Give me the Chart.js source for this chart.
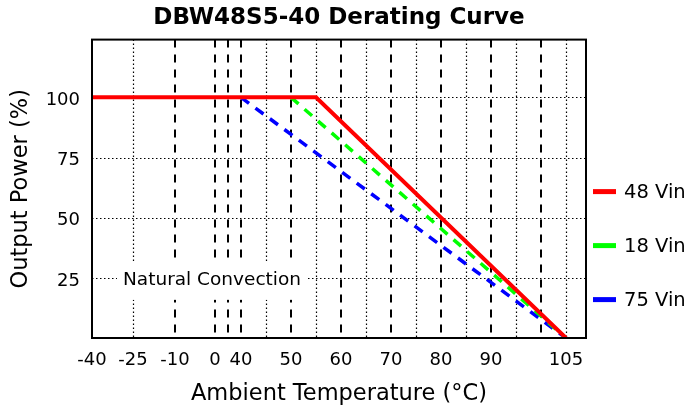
<!DOCTYPE html>
<html>
<head>
<meta charset="utf-8">
<title>DBW48S5-40 Derating Curve</title>
<script src="https://cdn.jsdelivr.net/npm/chart.js@4.4.1/dist/chart.umd.min.js"></script>
<style>
    html, body { margin: 0; padding: 0; background: #fff; }
    #wrap { width: 686px; height: 416px; }
</style>
</head>
<body>
<div id="wrap"><canvas id="derating" width="686" height="416"></canvas></div>
<script>
// Derating curves
const seriesLabels = ['48 Vin', '18 Vin', '75 Vin'];
const seriesColors = ['#ff0000', '#00ff00', '#0000ff'];
const temp48 = [-40, 55, 105];
const power48 = [100, 100, 0];
const temp18 = [50, 105];
const power18 = [100, 0];
const temp75 = [40, 105];
const power75 = [100, 0];

// Axis ticks and grid lines
const xTickLabels = [-40, -25, -10, 0, 40, 50, 60, 70, 80, 90, 105];
const yTickLabels = [25, 50, 75, 100];
const xDashedGrid = [-10, 0, 20, 40, 50, 60, 70, 80, 90, 100];
const xDottedGrid = [-25, 45, 55, 65, 75, 85, 95, 105];
const noteText = 'Natural Convection';

const FONT = '"DejaVu Sans", "Liberation Sans", Arial, sans-serif';

// Linear scale whose low-temperature part is squeezed, like the datasheet axis.
// stops: [value, fraction of axis length]
class SegmentedScale extends Chart.LinearScale {
    toDecimal(v) {
        const s = this.options.stops;
        let i = 1;
        while (i < s.length - 1 && v > s[i][0]) i++;
        const [v0, d0] = s[i - 1];
        const [v1, d1] = s[i];
        return d0 + (v - v0) / (v1 - v0) * (d1 - d0);
    }
    fromDecimal(d) {
        const s = this.options.stops;
        let i = 1;
        while (i < s.length - 1 && d > s[i][1]) i++;
        const [v0, d0] = s[i - 1];
        const [v1, d1] = s[i];
        return v0 + (d - d0) / (d1 - d0) * (v1 - v0);
    }
    getPixelForValue(value) {
        if (value === null || value === undefined || isNaN(value)) return NaN;
        return this.getPixelForDecimal(this.toDecimal(value));
    }
    getValueForPixel(pixel) {
        return this.fromDecimal(this.getDecimalForPixel(pixel));
    }
}
SegmentedScale.id = 'segmented';
SegmentedScale.defaults = {};
Chart.register(SegmentedScale);

function toPoints(xs, ys) {
    return xs.map((x, i) => ({ x: x, y: ys[i] }));
}

function line(ctx, x1, y1, x2, y2) {
    ctx.beginPath();
    ctx.moveTo(x1, y1);
    ctx.lineTo(x2, y2);
    ctx.stroke();
}

// Dotted / dashed grid, note box, frame and legend
const datasheetPlugin = {
    id: 'datasheet',
    beforeDatasetsDraw(chart) {
        const { ctx, chartArea: a, scales: { x, y } } = chart;
        ctx.save();
        ctx.strokeStyle = '#000';

        ctx.lineWidth = 1.2;
        ctx.setLineDash([1.5, 2.5]);
        yTickLabels.forEach(v => {
            const py = Math.round(y.getPixelForValue(v)) + 0.5;
            line(ctx, a.left, py, a.right, py);
        });
        xDottedGrid.forEach(v => {
            const px = Math.round(x.getPixelForValue(v)) + 0.5;
            line(ctx, px, a.top, px, a.bottom);
        });

        ctx.lineWidth = 2;
        ctx.setLineDash([8, 7]);
        xDashedGrid.forEach(v => {
            const px = Math.round(x.getPixelForValue(v));
            line(ctx, px, a.top, px, a.bottom);
        });

        // label sitting on the 25 % grid line
        ctx.setLineDash([]);
        ctx.font = '18.5px ' + FONT;
        const tx = a.left + 31;
        const ty = y.getPixelForValue(25) + 2;
        const tw = ctx.measureText(noteText).width;
        ctx.fillStyle = '#fff';
        ctx.fillRect(tx - 6, ty - 18, tw + 12, 38);
        ctx.fillStyle = '#000';
        ctx.textBaseline = 'middle';
        ctx.textAlign = 'left';
        ctx.fillText(noteText, tx, ty);
        ctx.restore();
    },
    afterDatasetsDraw(chart) {
        const { ctx, chartArea: a } = chart;
        ctx.save();
        ctx.strokeStyle = '#000';
        ctx.lineWidth = 2;
        ctx.strokeRect(a.left, a.top, a.right - a.left, a.bottom - a.top);
        ctx.restore();
    },
    afterDraw(chart) {
        const { ctx, chartArea: a } = chart;
        ctx.save();
        const lx = a.right + 7;
        chart.data.datasets.forEach((ds, i) => {
            const ly = a.top + 152 + i * 54;
            ctx.strokeStyle = ds.borderColor;
            ctx.lineWidth = 5;
            line(ctx, lx, ly, lx + 23, ly);
            ctx.fillStyle = '#000';
            ctx.font = '19.5px ' + FONT;
            ctx.textBaseline = 'middle';
            ctx.fillText(ds.label, lx + 31, ly + 1);
        });
        ctx.restore();
    }
};

new Chart(document.getElementById('derating'), {
    type: 'line',
    data: {
        datasets: [
            {
                label: seriesLabels[0],
                data: toPoints(temp48, power48),
                borderColor: seriesColors[0],
                borderWidth: 4
            },
            {
                label: seriesLabels[1],
                data: toPoints(temp18, power18),
                borderColor: seriesColors[1],
                borderWidth: 3.5,
                borderDash: [10, 8]
            },
            {
                label: seriesLabels[2],
                data: toPoints(temp75, power75),
                borderColor: seriesColors[2],
                borderWidth: 3.5,
                borderDash: [10, 8]
            }
        ]
    },
    options: {
        responsive: false,
        animation: false,
        devicePixelRatio: 1,
        elements: {
            point: { radius: 0 },
            line: { tension: 0, borderCapStyle: 'butt' }
        },
        layout: { padding: { left: 0, right: 100, top: 0, bottom: 0 } },
        plugins: {
            legend: { display: false },
            tooltip: { enabled: false },
            title: {
                display: true,
                fullSize: false,
                text: 'DBW48S5-40 Derating Curve',
                color: '#000',
                font: { family: FONT, size: 23, weight: 'bold' },
                padding: { top: 4, bottom: 8 }
            }
        },
        scales: {
            x: {
                type: 'segmented',
                min: -40,
                max: 109,
                stops: [[-40, 0], [-25, 0.083], [-10, 0.168], [0, 0.249], [20, 0.275], [40, 0.3016], [109, 1]],
                afterBuildTicks: scale => {
                    scale.ticks = xTickLabels.map(v => ({ value: v }));
                },
                afterFit: scale => { scale.height = 78; },
                grid: { display: false, drawTicks: false },
                border: { display: false },
                ticks: {
                    autoSkip: false,
                    maxRotation: 0,
                    minRotation: 0,
                    padding: 12,
                    color: '#000',
                    font: { family: FONT, size: 18 },
                    callback: value => String(value)
                },
                title: {
                    display: true,
                    text: 'Ambient Temperature (°C)',
                    color: '#000',
                    font: { family: FONT, size: 22.5 },
                    padding: { top: 0, bottom: 8.5 }
                }
            },
            y: {
                min: 0,
                max: 124,
                afterBuildTicks: scale => {
                    scale.ticks = yTickLabels.map(v => ({ value: v }));
                },
                afterFit: scale => { scale.width = 92; },
                grid: { display: false, drawTicks: false },
                border: { display: false },
                ticks: {
                    padding: 12,
                    labelOffset: 3,
                    color: '#000',
                    font: { family: FONT, size: 18 }
                },
                title: {
                    display: true,
                    text: 'Output Power (%)',
                    color: '#000',
                    font: { family: FONT, size: 22.5 },
                    padding: { top: 7.5, bottom: 0 }
                }
            }
        }
    },
    plugins: [datasheetPlugin]
});
</script>
</body>
</html>
